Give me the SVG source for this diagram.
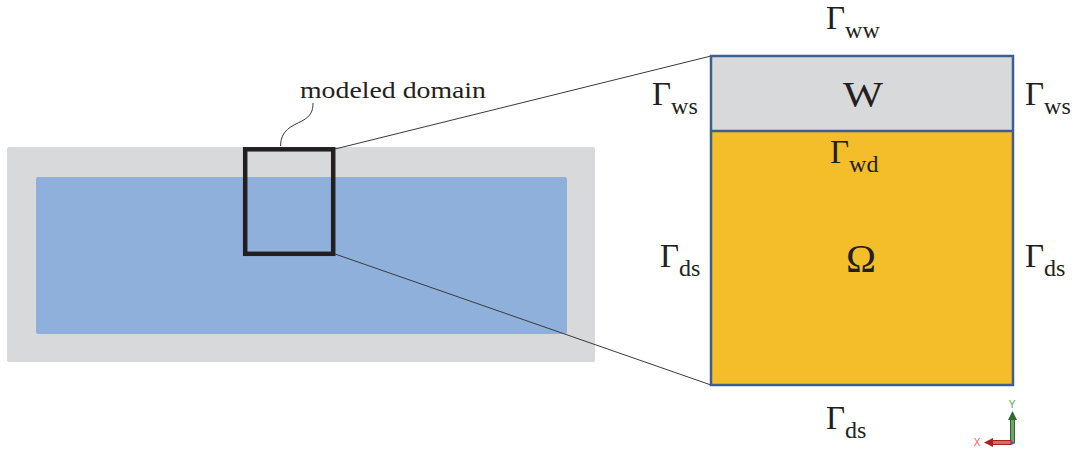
<svg xmlns="http://www.w3.org/2000/svg" width="1077" height="454" viewBox="0 0 1077 454">
<style>
.t{font-family:"Liberation Serif","Times New Roman",serif;fill:#231F20}
.g{font-size:33px}
.s{font-size:24px}
.conn{stroke:#3a3a3a;stroke-width:1;fill:none}
</style>
<rect width="1077" height="454" fill="#ffffff"/>
<g id="domain">
<rect x="7" y="147" width="588" height="215" rx="2" fill="#D8D9DB"/>
<rect x="36" y="177" width="531" height="157" rx="2" fill="#8FB0DB"/>
</g>
<g id="modeled-box">
<rect x="245.2" y="149.3" width="88" height="104.5" fill="none" stroke="#231F20" stroke-width="4.5"/>
</g>
<g id="label-modeled">
<text class="t" x="300" y="98" font-size="24" textLength="186" lengthAdjust="spacingAndGlyphs">modeled domain</text>
</g>
<g id="connectors">
<path class="conn" d="M280.5,146 C280.5,130 292,126 302,121 C311,116 313,111 313,103"/>
<line class="conn" x1="335" y1="149" x2="711" y2="56"/>
<line class="conn" x1="335" y1="254" x2="711" y2="385"/>
</g>
<g id="zoom-domain">
<rect x="711" y="56" width="302" height="75" fill="#D8D9DB"/>
<rect x="711" y="131" width="302" height="254" fill="#F4BD2A"/>
<rect x="711" y="56" width="302" height="329" fill="none" stroke="#3D5F8F" stroke-width="2.5"/>
<line x1="711" y1="131" x2="1013" y2="131" stroke="#3D5F8F" stroke-width="2.5"/>
</g>
<g id="W">
<text class="t" x="843" y="106.5" font-size="35" textLength="40" lengthAdjust="spacingAndGlyphs">W</text>
</g>
<g id="Omega">
<text class="t" x="846" y="272" font-size="40" textLength="30" lengthAdjust="spacingAndGlyphs">Ω</text>
</g>
<g id="gamma-ww"><text class="t g" x="826" y="29">Γ<tspan class="s" dy="9">ww</tspan></text></g>
<g id="gamma-ws-left"><text class="t g" x="652" y="105">Γ<tspan class="s" dy="9">ws</tspan></text></g>
<g id="gamma-ws-right"><text class="t g" x="1025" y="105">Γ<tspan class="s" dy="9">ws</tspan></text></g>
<g id="gamma-wd"><text class="t g" x="830" y="163">Γ<tspan class="s" dy="9">wd</tspan></text></g>
<g id="gamma-ds-left"><text class="t g" x="660" y="266.5">Γ<tspan class="s" dy="9">ds</tspan></text></g>
<g id="gamma-ds-right"><text class="t g" x="1025" y="266.5">Γ<tspan class="s" dy="9">ds</tspan></text></g>
<g id="gamma-ds-bottom"><text class="t g" x="826" y="429">Γ<tspan class="s" dy="9">ds</tspan></text></g>
<g id="axes">
<rect x="1010.5" y="419" width="4" height="24" fill="#6FA36B" stroke="#2F6A2F" stroke-width="1"/>
<polygon points="1012.5,411 1008,420 1017,420" fill="#2F6A2F"/>
<rect x="992" y="440.5" width="19" height="4" fill="#D86A6A" stroke="#A52222" stroke-width="1"/>
<polygon points="984,442.5 993,438 993,447" fill="#A52222"/>
<circle cx="1012" cy="443" r="1.6" fill="#4455CC"/>
<text x="1012" y="408" font-family="Liberation Sans, Arial, sans-serif" font-size="10" fill="#4CAF50" text-anchor="middle">Y</text>
<text x="977" y="446" font-family="Liberation Sans, Arial, sans-serif" font-size="10" fill="#F06060" text-anchor="middle">X</text>
</g>
</svg>
